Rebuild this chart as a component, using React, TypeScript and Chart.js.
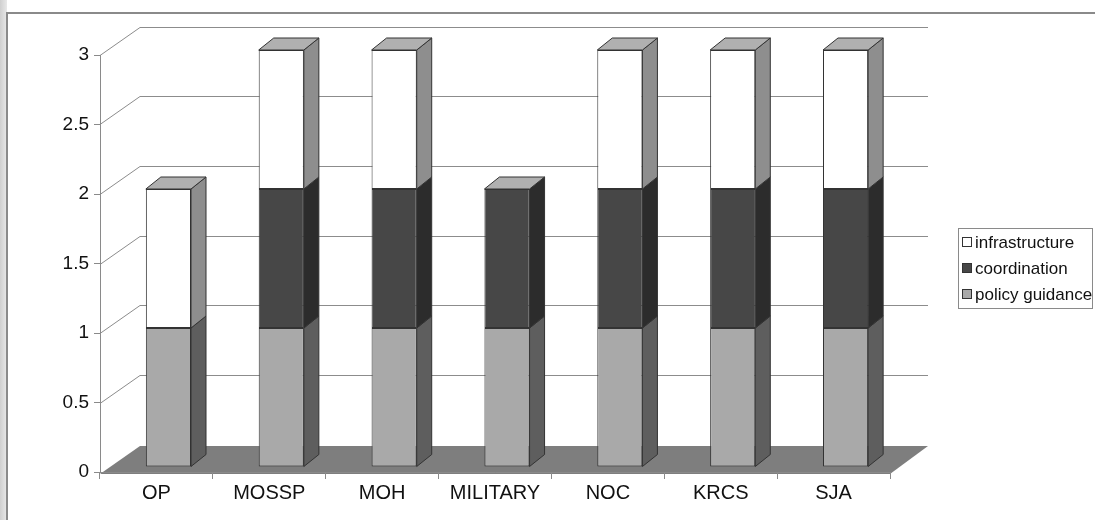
import { useEffect, useRef } from "react";
import { Chart, registerables } from "chart.js";

Chart.register(...registerables);

const categories = ["OP", "MOSSP", "MOH", "MILITARY", "NOC", "KRCS", "SJA"];
const policyGuidance = [1, 1, 1, 1, 1, 1, 1];
const coordination = [0, 1, 1, 1, 1, 1, 1];
const infrastructure = [1, 1, 1, 0, 1, 1, 1];
const seriesLabels = ["policy guidance", "coordination", "infrastructure"];
const frontColors = ["#a9a9a9", "#474747", "#ffffff"];
const sideColors = ["#5e5e5e", "#2c2c2c", "#8e8e8e"];
const topColor = "#b0b0b0";

const WALL_X = 40;
const WALL_Y = 28;
const WALL_RIGHT = 928;
const SHIFT_X = 12;
const SHIFT_Y = -5;
const DEPTH_X = 15;
const DEPTH_Y = 12;
const FONT = "Arial, 'Liberation Sans', sans-serif";

const threeD = {
  id: "threeD",
  beforeDraw(chart: any) {
    const { ctx, width, height } = chart;
    const { left, right, bottom } = chart.chartArea;
    ctx.save();
    ctx.fillStyle = "#ffffff";
    ctx.fillRect(0, 0, width, height);
    const g = ctx.createLinearGradient(0, 0, 8, 0);
    g.addColorStop(0, "#cfcfcf");
    g.addColorStop(1, "#ececec");
    ctx.fillStyle = g;
    ctx.fillRect(0, 0, 7, height);
    ctx.strokeStyle = "#8a8a8a";
    ctx.lineWidth = 2;
    ctx.beginPath();
    ctx.moveTo(7, height);
    ctx.lineTo(7, 13);
    ctx.lineTo(width, 13);
    ctx.stroke();
    const ys = chart.scales.y;
    ctx.strokeStyle = "#8c8c8c";
    ctx.lineWidth = 1;
    ys.ticks.forEach((t: any) => {
      if (t.value === 0) return;
      const py = Math.round(ys.getPixelForValue(t.value)) + 0.5;
      ctx.beginPath();
      ctx.moveTo(left, py);
      ctx.lineTo(left + WALL_X, py - WALL_Y);
      ctx.lineTo(WALL_RIGHT, py - WALL_Y);
      ctx.stroke();
    });
    ctx.fillStyle = "#7e7e7e";
    ctx.beginPath();
    ctx.moveTo(left, bottom + 2);
    ctx.lineTo(right, bottom + 2);
    ctx.lineTo(WALL_RIGHT, bottom + 2 - WALL_Y);
    ctx.lineTo(left + WALL_X, bottom + 2 - WALL_Y);
    ctx.closePath();
    ctx.fill();
    ctx.restore();
  },
  beforeDatasetsDraw(chart: any) {
    chart.ctx.save();
    chart.ctx.translate(SHIFT_X, SHIFT_Y);
  },
  afterDatasetsDraw(chart: any) {
    const ctx = chart.ctx;
    const n = chart.data.labels.length;
    ctx.lineWidth = 1;
    ctx.strokeStyle = "#333333";
    for (let i = 0; i < n; i++) {
      let topEl: any = null;
      chart.data.datasets.forEach((ds: any, di: number) => {
        const el = chart.getDatasetMeta(di).data[i];
        const v = ds.data[i];
        if (!el || !v) return;
        const x1 = el.x + el.width / 2;
        const yt = el.y;
        const yb = el.base;
        ctx.fillStyle = sideColors[di];
        ctx.beginPath();
        ctx.moveTo(x1, yt);
        ctx.lineTo(x1 + DEPTH_X, yt - DEPTH_Y);
        ctx.lineTo(x1 + DEPTH_X, yb - DEPTH_Y);
        ctx.lineTo(x1, yb);
        ctx.closePath();
        ctx.fill();
        ctx.stroke();
        topEl = el;
      });
      if (topEl) {
        const x0 = topEl.x - topEl.width / 2;
        const x1 = topEl.x + topEl.width / 2;
        const yt = topEl.y;
        ctx.fillStyle = topColor;
        ctx.beginPath();
        ctx.moveTo(x0, yt);
        ctx.lineTo(x1, yt);
        ctx.lineTo(x1 + DEPTH_X, yt - DEPTH_Y);
        ctx.lineTo(x0 + DEPTH_X, yt - DEPTH_Y);
        ctx.closePath();
        ctx.fill();
        ctx.stroke();
      }
    }
    ctx.restore();
  },
  afterDraw(chart: any) {
    const ctx = chart.ctx;
    ctx.save();
    const bx = 958.5, by = 228.5, bw = 134, bh = 80;
    ctx.fillStyle = "#ffffff";
    ctx.fillRect(bx, by, bw, bh);
    ctx.strokeStyle = "#8a8a8a";
    ctx.lineWidth = 1;
    ctx.strokeRect(bx, by, bw, bh);
    ctx.font = `17px ${FONT}`;
    ctx.textBaseline = "middle";
    const order = [2, 1, 0];
    order.forEach((di, row) => {
      const cy = 242 + row * 26;
      ctx.fillStyle = frontColors[di];
      ctx.fillRect(962.5, cy - 4.5, 9, 9);
      ctx.strokeStyle = "#333";
      ctx.strokeRect(962.5, cy - 4.5, 9, 9);
      ctx.fillStyle = "#111111";
      ctx.fillText(chart.data.datasets[di].label, 975, cy + 1);
    });
    ctx.restore();
  },
};

export default function App() {
  const ref = useRef<HTMLCanvasElement>(null);
  useEffect(() => {
    if (!ref.current) return;
    const series = [policyGuidance, coordination, infrastructure];
    const chart = new Chart(ref.current, {
      type: "bar",
      data: {
        labels: categories,
        datasets: series.map((d, i) => ({
          label: seriesLabels[i],
          data: d,
          backgroundColor: frontColors[i],
          borderColor: "#333333",
          borderWidth: 1,
          borderSkipped: false,
          barPercentage: 0.4,
          categoryPercentage: 1,
          clip: false,
        })) as any,
      },
      options: {
        responsive: false,
        animation: false,
        devicePixelRatio: 1,
        layout: { padding: { left: 0, top: 55, right: 205, bottom: 8 } },
        plugins: { legend: { display: false }, tooltip: { enabled: false } },
        scales: {
          x: {
            stacked: true,
            afterFit: (s: any) => { s.height = 40; },
            grid: { display: true, drawOnChartArea: false, offset: true, tickLength: 7, color: "#8a8a8a" },
            border: { display: true, color: "#8a8a8a" },
            ticks: { color: "#111111", font: { size: 20, family: FONT }, padding: 2 },
          },
          y: {
            stacked: true,
            min: 0,
            max: 3,
            afterFit: (s: any) => { s.width = 100; },
            grid: { display: true, drawOnChartArea: false, tickLength: 6, color: "#8a8a8a" },
            border: { display: true, color: "#8a8a8a" },
            ticks: {
              stepSize: 0.5,
              color: "#111111",
              font: { size: 19, family: FONT },
              padding: 5,
              callback: (v: any) => `${Number(v)}`,
            },
          },
        },
      },
      plugins: [threeD],
    });
    return () => chart.destroy();
  }, []);
  return (
    <div style={{ position: "absolute", left: 0, top: 0, width: 1095, height: 520 }}>
      <canvas ref={ref} width={1095} height={520} />
    </div>
  );
}
